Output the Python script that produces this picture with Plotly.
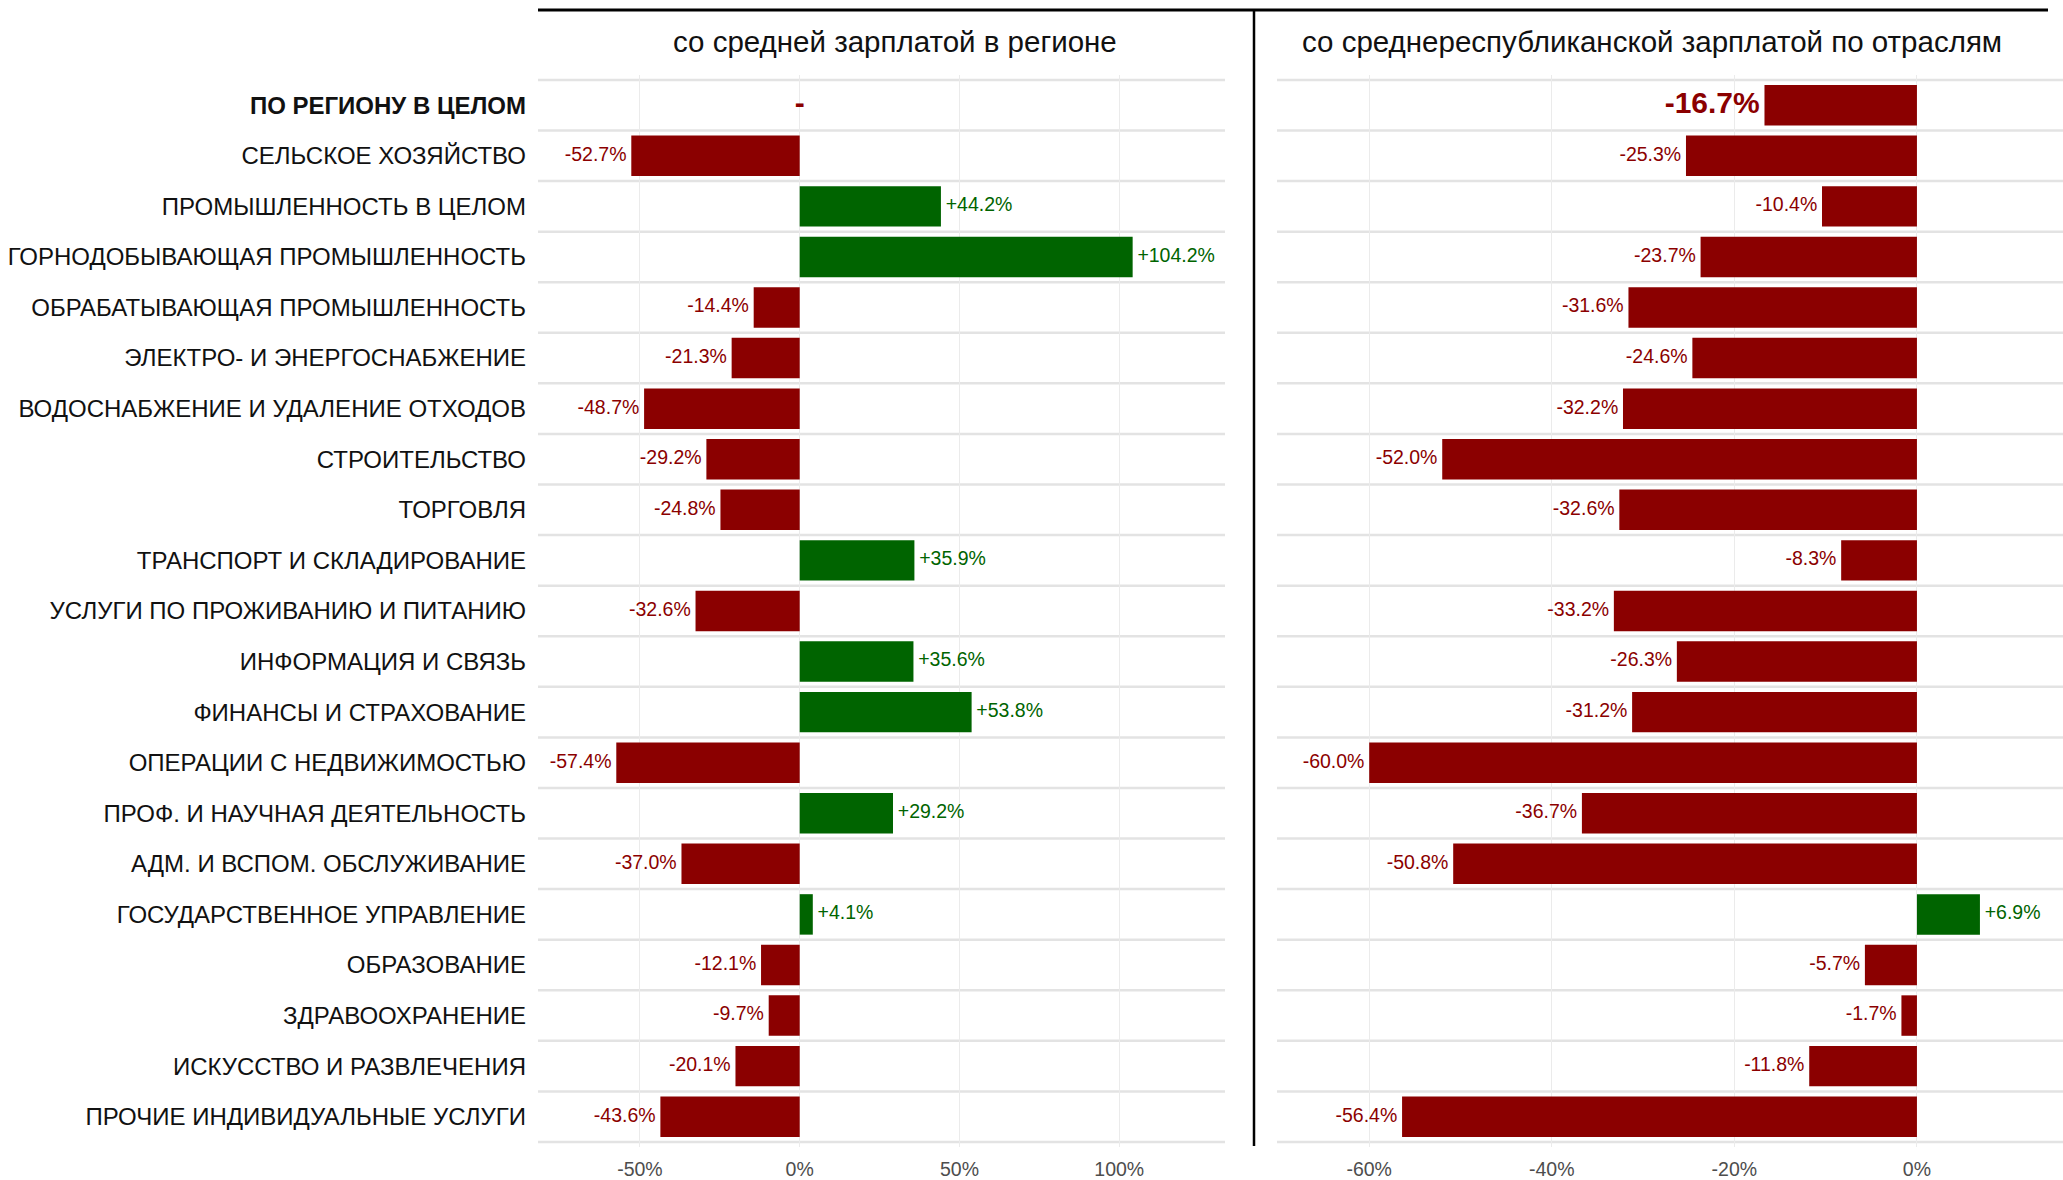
import plotly.graph_objects as go

categories = [
    "ПО РЕГИОНУ В ЦЕЛОМ",
    "СЕЛЬСКОЕ ХОЗЯЙСТВО",
    "ПРОМЫШЛЕННОСТЬ В ЦЕЛОМ",
    "ГОРНОДОБЫВАЮЩАЯ ПРОМЫШЛЕННОСТЬ",
    "ОБРАБАТЫВАЮЩАЯ ПРОМЫШЛЕННОСТЬ",
    "ЭЛЕКТРО- И ЭНЕРГОСНАБЖЕНИЕ",
    "ВОДОСНАБЖЕНИЕ И УДАЛЕНИЕ ОТХОДОВ",
    "СТРОИТЕЛЬСТВО",
    "ТОРГОВЛЯ",
    "ТРАНСПОРТ И СКЛАДИРОВАНИЕ",
    "УСЛУГИ ПО ПРОЖИВАНИЮ И ПИТАНИЮ",
    "ИНФОРМАЦИЯ И СВЯЗЬ",
    "ФИНАНСЫ И СТРАХОВАНИЕ",
    "ОПЕРАЦИИ С НЕДВИЖИМОСТЬЮ",
    "ПРОФ. И НАУЧНАЯ ДЕЯТЕЛЬНОСТЬ",
    "АДМ. И ВСПОМ. ОБСЛУЖИВАНИЕ",
    "ГОСУДАРСТВЕННОЕ УПРАВЛЕНИЕ",
    "ОБРАЗОВАНИЕ",
    "ЗДРАВООХРАНЕНИЕ",
    "ИСКУССТВО И РАЗВЛЕЧЕНИЯ",
    "ПРОЧИЕ ИНДИВИДУАЛЬНЫЕ УСЛУГИ",
]

vs_region = [0.0, -52.7, 44.2, 104.2, -14.4, -21.3, -48.7, -29.2, -24.8, 35.9,
             -32.6, 35.6, 53.8, -57.4, 29.2, -37.0, 4.1, -12.1, -9.7, -20.1, -43.6]

vs_republic = [-16.7, -25.3, -10.4, -23.7, -31.6, -24.6, -32.2, -52.0, -32.6, -8.3,
               -33.2, -26.3, -31.2, -60.0, -36.7, -50.8, 6.9, -5.7, -1.7, -11.8, -56.4]

panel_titles = ["со средней зарплатой в регионе", "со среднереспубликанской зарплатой по отраслям"]

left_ticks = [-50, 0, 50, 100]
left_ticktext = ["-50%", "0%", "50%", "100%"]
right_ticks = [-60, -40, -20, 0]
right_ticktext = ["-60%", "-40%", "-20%", "0%"]

RED = "#8B0000"
GREEN = "#006400"
FONT = "Liberation Sans, Arial, sans-serif"
W, H = 2063, 1180


def colors(vals):
    return [GREEN if v > 0 else RED for v in vals]


def label_text(vals, first_label):
    out = []
    for i, v in enumerate(vals):
        if i == 0:
            out.append(first_label)
        else:
            out.append(("+" if v > 0 else "") + f"{v:.1f}%")
    return out


def positions(vals):
    out = []
    for v in vals:
        if v > 0:
            out.append("middle right")
        elif v < 0:
            out.append("middle left")
        else:
            out.append("middle center")
    return out


fig = go.Figure()

for vals, xa, ya, first in [
    (vs_region, "x", "y", "<b>-</b>"),
    (vs_republic, "x2", "y2", f"<b>{vs_republic[0]:.1f}%</b>"),
]:
    fig.add_trace(go.Bar(
        y=categories, x=vals, orientation="h",
        marker=dict(color=colors(vals), line=dict(width=0)),
        width=0.8, xaxis=xa, yaxis=ya, showlegend=False, hoverinfo="skip",
    ))
    sizes = [30] + [19.5] * (len(vals) - 1)
    fig.add_trace(go.Scatter(
        y=categories, x=vals, mode="markers+text",
        marker=dict(size=6, opacity=0),
        text=label_text(vals, first),
        textposition=positions(vals),
        textfont=dict(family=FONT, size=sizes, color=colors(vals)),
        xaxis=xa, yaxis=ya, showlegend=False, hoverinfo="skip", cliponaxis=False,
    ))

n = len(categories)
ydom = [(H - 1149) / H, (H - 75) / H]

fig.update_layout(
    width=W, height=H,
    margin=dict(l=0, r=0, t=0, b=0),
    paper_bgcolor="white", plot_bgcolor="white",
    font=dict(family=FONT),
    bargap=0.2,
    xaxis=dict(domain=[538 / W, 1225 / W], range=[-81.9, 133.1],
               tickvals=left_ticks, ticktext=left_ticktext,
               showgrid=True, gridcolor="#ebebeb", gridwidth=1, zeroline=False,
               ticks="", tickfont=dict(size=19.5, color="#4d4d4d"), ticklabelstandoff=8,
               fixedrange=True),
    xaxis2=dict(domain=[1277 / W, 1.0], range=[-70.1, 16.0],
                tickvals=right_ticks, ticktext=right_ticktext,
                showgrid=True, gridcolor="#ebebeb", gridwidth=1, zeroline=False,
                ticks="", tickfont=dict(size=19.5, color="#4d4d4d"), ticklabelstandoff=8,
                anchor="y2", fixedrange=True),
    yaxis=dict(domain=ydom, type="category", categoryorder="array", categoryarray=categories,
               range=[n - 0.4, -0.6], showgrid=False, zeroline=False, ticks="",
               tickvals=categories,
               ticktext=["<b>" + categories[0] + "</b>"] + categories[1:],
               tickfont=dict(size=24, color="#111111"), ticklabelstandoff=11,
               fixedrange=True),
    yaxis2=dict(domain=ydom, type="category", categoryorder="array", categoryarray=categories,
                range=[n - 0.4, -0.6], showgrid=False, zeroline=False, ticks="",
                showticklabels=False, anchor="x2", fixedrange=True),
)

shapes = []
for xd, yr in [("x domain", "y"), ("x2 domain", "y2")]:
    for i in range(n + 1):
        shapes.append(dict(type="line", xref=xd, yref=yr, x0=0, x1=1,
                           y0=i - 0.5, y1=i - 0.5, layer="below",
                           line=dict(color="#e3e3e3", width=2.5)))
shapes.append(dict(type="line", xref="paper", yref="paper",
                   x0=538 / W, x1=2048 / W, y0=(H - 10) / H, y1=(H - 10) / H,
                   line=dict(color="black", width=3)))
shapes.append(dict(type="line", xref="paper", yref="paper",
                   x0=1254 / W, x1=1254 / W, y0=(H - 10) / H, y1=(H - 1148) / H,
                   line=dict(color="black", width=2.5)))
fig.update_layout(shapes=shapes)

for title, xc in zip(panel_titles, [895 / W, 1652 / W]):
    fig.add_annotation(text=title, xref="paper", yref="paper", x=xc, y=(H - 42) / H,
                       xanchor="center", yanchor="middle", showarrow=False,
                       font=dict(family=FONT, size=29.5, color="#111111"))

fig.write_html(
    "out.html",
    config={"displayModeBar": False},
    post_script="document.body.style.margin='0';document.body.style.overflow='hidden';",
)
